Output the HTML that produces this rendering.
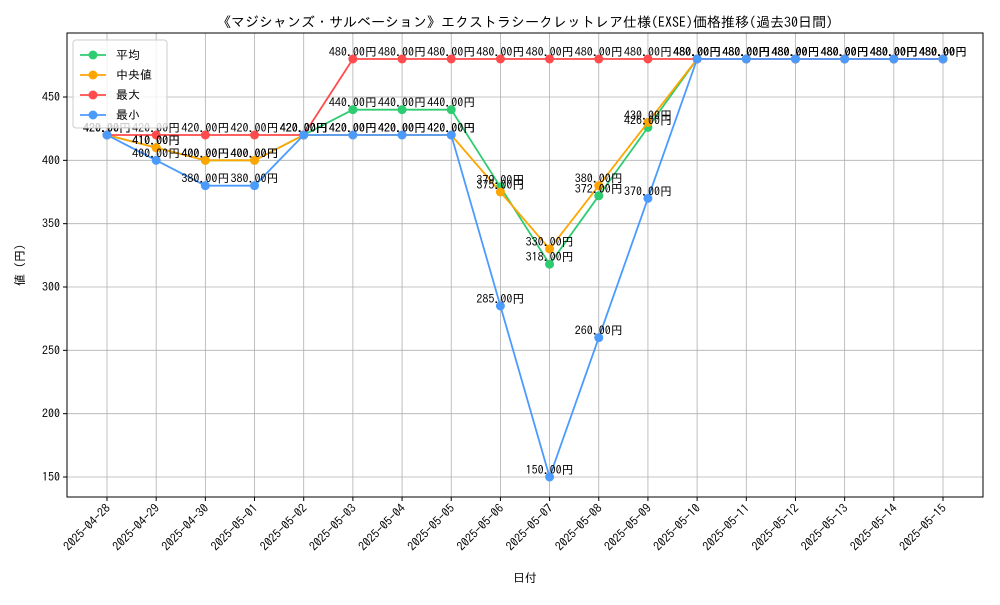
<!DOCTYPE html>
<html><head><meta charset="utf-8"><style>
body{margin:0;background:#fff}
svg text{font-family:"IPAGothic","Noto Sans CJK JP",sans-serif}
</style></head><body>
<svg id="c" width="1000" height="600" xmlns="http://www.w3.org/2000/svg"></svg>
<script>
const categories=["2025-04-28","2025-04-29","2025-04-30","2025-05-01","2025-05-02","2025-05-03","2025-05-04","2025-05-05","2025-05-06","2025-05-07","2025-05-08","2025-05-09","2025-05-10","2025-05-11","2025-05-12","2025-05-13","2025-05-14","2025-05-15"];
const avgValues=[420,410,400,400,420,440,440,440,379,318,372,426,480,480,480,480,480,480];
const medianValues=[420,410,400,400,420,420,420,420,375,330,380,430,480,480,480,480,480,480];
const maxValues=[420,420,420,420,420,480,480,480,480,480,480,480,480,480,480,480,480,480];
const minValues=[420,400,380,380,420,420,420,420,285,150,260,370,480,480,480,480,480,480];
const yTicks=[150,200,250,300,350,400,450];
const seriesNames=["平均","中央値","最大","最小"];
const colors=["#2ecc71","#ffa500","#ff4b4b","#4b9bff"];
const svg=document.getElementById('c');const NS="http://www.w3.org/2000/svg";
const L=67,R=983,T=33,B=497;
const x=i=>107+i*(943-107)/(categories.length-1);
const y=v=>477-(v-150)*(380/300);
function el(t,a,p){const e=document.createElementNS(NS,t);for(const k in a)e.setAttribute(k,a[k]);(p||svg).appendChild(e);return e;}
function tx(s,a,p){const e=el('text',a,p);e.textContent=s;return e;}
const grid=el('g',{});
categories.forEach((c,i)=>{el('line',{x1:x(i),x2:x(i),y1:T,y2:B,stroke:'#b0b0b0','stroke-width':0.8},grid);
 el('line',{x1:x(i),x2:x(i),y1:B,y2:B+4,stroke:'#000'});
 const t=tx(c,{x:x(i)+4,y:B+12,'font-size':12,'text-anchor':'end',transform:`rotate(-45 ${x(i)+4} ${B+12})`});
 });
yTicks.forEach(v=>{el('line',{x1:L,x2:R,y1:y(v),y2:y(v),stroke:'#b0b0b0','stroke-width':0.8},grid);
 el('line',{x1:L-4,x2:L,y1:y(v),y2:y(v),stroke:'#000'});
 const t=tx(v,{x:L-7,y:y(v)+4,'font-size':12,'text-anchor':'end'});
 });
const all=[avgValues,medianValues,maxValues,minValues];
all.forEach((s,k)=>{const g=el('g',{});
 el('polyline',{points:s.map((v,i)=>x(i)+','+y(v)).join(' '),fill:'none',stroke:colors[k],'stroke-width':1.8},g);
 s.forEach((v,i)=>{const c=el('circle',{cx:x(i),cy:y(v),r:4.5,fill:colors[k]},g);});});
all.forEach((s,k)=>{s.forEach((v,i)=>{const t=tx(v.toFixed(2)+'円',{x:x(i),y:y(v)-3,'font-size':12,'text-anchor':'middle',fill:'#000'});
 });});
el('rect',{x:L,y:T,width:R-L,height:B-T,fill:'none',stroke:'#000','stroke-width':1});
const tt=tx('《マジシャンズ・サルベーション》エクストラシークレットレア仕様(EXSE)価格推移(過去30日間)',{x:525,y:27,'font-size':14,'text-anchor':'middle'});

const xt=tx('日付',{x:525,y:582,'font-size':12,'text-anchor':'middle'});
const yt=tx('値 (円)',{x:24,y:265,'font-size':12,'text-anchor':'middle',transform:'rotate(-90 24 265)'});
const lg=el('g',{});
el('rect',{x:73,y:40,width:94,height:88,fill:'#fff','fill-opacity':0.8,stroke:'#ccc',rx:3},lg);
seriesNames.forEach((n,k)=>{const yy=55+k*20;const e=el('g',{},lg);
 el('line',{x1:80,x2:106,y1:yy,y2:yy,stroke:colors[k],'stroke-width':1.8},e);
 el('circle',{cx:93,cy:yy,r:4.5,fill:colors[k]},e);
 tx(n,{x:116,y:yy+4,'font-size':12},e);});
</script></body></html>
